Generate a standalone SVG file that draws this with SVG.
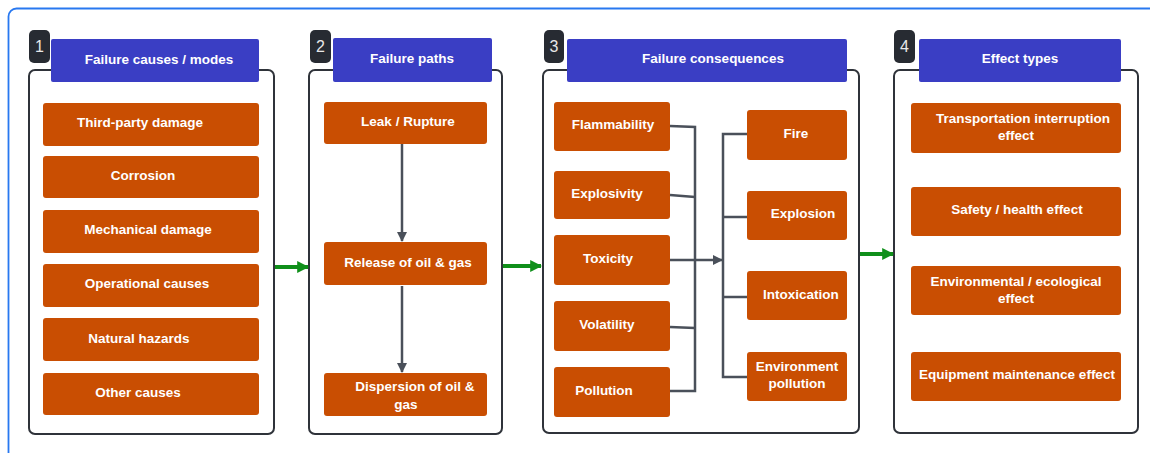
<svg xmlns="http://www.w3.org/2000/svg" width="1150" height="453" viewBox="0 0 1150 453">
<defs>
<style>
.panel{fill:#fff;stroke:#2f333a;stroke-width:2}
.badge{fill:#272b32}
.bnum{fill:#e8e8e8;font-family:"Liberation Sans",Arial,sans-serif;font-size:16px;text-anchor:middle}
.hdr{fill:#3a3ec4}
.box{fill:#c94e02}
.t{fill:#fff;font-family:"Liberation Sans",Arial,sans-serif;font-size:13.5px;font-weight:bold;text-anchor:middle}
.g{stroke:#0f8f1a;stroke-width:4;fill:none}
.c{stroke:#4a505a;stroke-width:2.5;fill:none}
</style>
<marker id="ga" viewBox="0 0 10 10" refX="9" refY="5" markerWidth="3" markerHeight="3" orient="auto" markerUnits="strokeWidth"><path d="M0,0 L10,5 L0,10 Z" fill="#0f8f1a"/></marker>
<marker id="ca" viewBox="0 0 10 10" refX="9" refY="5" markerWidth="4.5" markerHeight="4" orient="auto" markerUnits="strokeWidth"><path d="M0,0 L10,5 L0,10 Z" fill="#4a505a"/></marker>
</defs>
<rect x="8.5" y="8.5" width="1170" height="452" rx="8" fill="#fff" stroke="#2878f0" stroke-width="1.8"/>

<g id="panel1">
<rect class="panel" x="29" y="70" width="245" height="364" rx="6"/>
<rect class="badge" x="29" y="30" width="21" height="33" rx="5"/>
<text class="bnum" x="39.5" y="52">1</text>
<rect class="hdr" x="51" y="39" width="208" height="43" rx="2"/>
<text class="t" x="159" y="64">Failure causes / modes</text>
</g>
<g id="n-third"><rect class="box" x="43" y="103" width="216" height="43" rx="3"/><text class="t" x="140" y="127">Third-party damage</text></g>
<g id="n-corrosion"><rect class="box" x="43" y="156" width="216" height="42" rx="3"/><text class="t" x="143" y="180">Corrosion</text></g>
<g id="n-mech"><rect class="box" x="43" y="210" width="216" height="43" rx="3"/><text class="t" x="148" y="234">Mechanical damage</text></g>
<g id="n-oper"><rect class="box" x="43" y="264" width="216" height="43" rx="3"/><text class="t" x="147" y="288">Operational causes</text></g>
<g id="n-natural"><rect class="box" x="43" y="318" width="216" height="43" rx="3"/><text class="t" x="139" y="343">Natural hazards</text></g>
<g id="n-other"><rect class="box" x="43" y="373" width="216" height="42" rx="3"/><text class="t" x="138" y="397">Other causes</text></g>

<g id="panel2">
<rect class="panel" x="309" y="70" width="193" height="364" rx="6"/>
<rect class="badge" x="310" y="30" width="21" height="33" rx="5"/>
<text class="bnum" x="320.5" y="52">2</text>
<rect class="hdr" x="333" y="38" width="159" height="44" rx="2"/>
<text class="t" x="412" y="63">Failure paths</text>
</g>
<g id="n-leak"><rect class="box" x="324" y="102" width="163" height="42" rx="3"/><text class="t" x="408" y="126">Leak / Rupture</text></g>
<g id="n-release"><rect class="box" x="324" y="242" width="163" height="43" rx="3"/><text class="t" x="408" y="267">Release of oil &amp; gas</text></g>
<g id="n-dispersion"><rect class="box" x="324" y="373" width="163" height="43" rx="3"/><text class="t" x="415" y="391">Dispersion of oil &amp;</text><text class="t" x="406" y="409">gas</text></g>

<g id="panel3">
<rect class="panel" x="543" y="70" width="316" height="363" rx="6"/>
<rect class="badge" x="544" y="30" width="20" height="33" rx="5"/>
<text class="bnum" x="554" y="52">3</text>
<rect class="hdr" x="567" y="39" width="280" height="43" rx="2"/>
<text class="t" x="713" y="63">Failure consequences</text>
</g>
<g id="n-flam"><rect class="box" x="554" y="102" width="116" height="49" rx="3"/><text class="t" x="613" y="129">Flammability</text></g>
<g id="n-explosivity"><rect class="box" x="554" y="171" width="116" height="48" rx="3"/><text class="t" x="607" y="198">Explosivity</text></g>
<g id="n-toxicity"><rect class="box" x="554" y="235" width="116" height="50" rx="3"/><text class="t" x="608" y="263">Toxicity</text></g>
<g id="n-volatility"><rect class="box" x="554" y="301" width="116" height="50" rx="3"/><text class="t" x="607" y="329">Volatility</text></g>
<g id="n-pollution"><rect class="box" x="554" y="367" width="116" height="50" rx="3"/><text class="t" x="604" y="395">Pollution</text></g>
<g id="n-fire"><rect class="box" x="747" y="110" width="100" height="50" rx="3"/><text class="t" x="796" y="138">Fire</text></g>
<g id="n-explosion"><rect class="box" x="747" y="191" width="100" height="49" rx="3"/><text class="t" x="803" y="218">Explosion</text></g>
<g id="n-intox"><rect class="box" x="747" y="271" width="100" height="49" rx="3"/><text class="t" x="801" y="299">Intoxication</text></g>
<g id="n-envpol"><rect class="box" x="747" y="352" width="100" height="49" rx="3"/><text class="t" x="797" y="371">Environment</text><text class="t" x="797" y="388">pollution</text></g>

<g id="panel4">
<rect class="panel" x="894" y="70" width="244" height="363" rx="6"/>
<rect class="badge" x="894" y="30" width="21" height="33" rx="5"/>
<text class="bnum" x="904.5" y="52">4</text>
<rect class="hdr" x="919" y="39" width="202" height="43" rx="2"/>
<text class="t" x="1020" y="63">Effect types</text>
</g>
<g id="n-transport"><rect class="box" x="911" y="103" width="210" height="50" rx="3"/><text class="t" x="1023" y="123">Transportation interruption</text><text class="t" x="1016" y="140">effect</text></g>
<g id="n-safety"><rect class="box" x="911" y="187" width="210" height="49" rx="3"/><text class="t" x="1017" y="214">Safety / health effect</text></g>
<g id="n-env"><rect class="box" x="911" y="266" width="210" height="49" rx="3"/><text class="t" x="1016" y="286">Environmental / ecological</text><text class="t" x="1016" y="303">effect</text></g>
<g id="n-equip"><rect class="box" x="911" y="352" width="210" height="49" rx="3"/><text class="t" x="1017" y="379">Equipment maintenance effect</text></g>

<g id="connectors">
<line class="g" x1="275" y1="267" x2="308" y2="267" marker-end="url(#ga)"/>
<line class="g" x1="503" y1="266" x2="541" y2="266" marker-end="url(#ga)"/>
<line class="g" x1="860" y1="254" x2="893" y2="254" marker-end="url(#ga)"/>
<line class="c" x1="402" y1="144" x2="402" y2="241" marker-end="url(#ca)"/>
<line class="c" x1="402" y1="286" x2="402" y2="372" marker-end="url(#ca)"/>
<polyline class="c" points="670,126 695,127 695,391 670,391"/>
<polyline class="c" points="670,195 695,197"/>
<polyline class="c" points="670,327 695,328"/>
<line class="c" x1="670" y1="260" x2="722" y2="260" marker-end="url(#ca)"/>
<polyline class="c" points="747,134 723,134 723,377 747,377"/>
<line class="c" x1="723" y1="217" x2="747" y2="217"/>
<line class="c" x1="723" y1="297" x2="747" y2="297"/>
</g>
</svg>
